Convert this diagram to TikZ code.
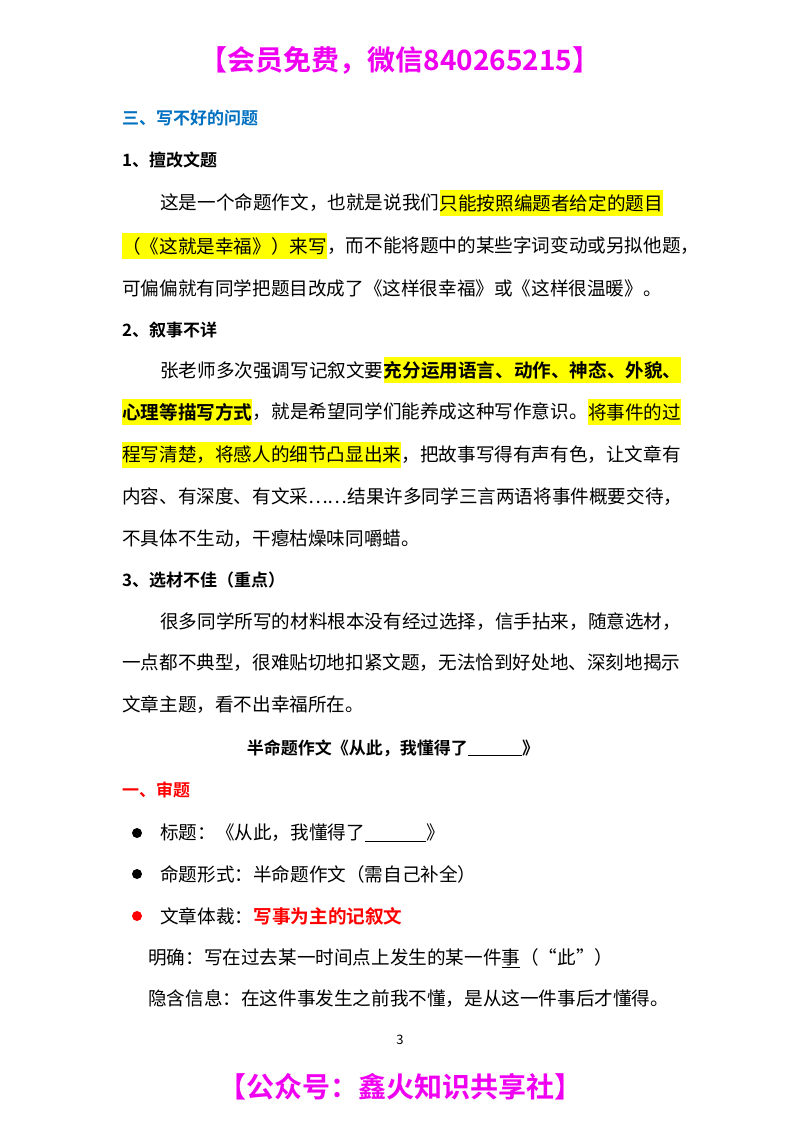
\documentclass[tikz,border=0pt]{standalone}
\usepackage{fontspec}
\setmainfont{Noto Sans CJK SC}
\newfontfamily\cjk{Noto Sans CJK SC}
\newfontfamily\cjkb{Noto Sans CJK SC Bold}
\definecolor{mag}{RGB}{240,0,240}
\definecolor{hdblue}{RGB}{0,112,192}
\definecolor{hl}{RGB}{255,255,0}
\begin{document}
\begin{tikzpicture}[x=1pt,y=-1pt,
  t/.style={anchor=west,inner sep=0pt,font=\fontsize{18.6}{20}\cjk,minimum height=26pt},
  tb/.style={t,font=\fontsize{18.6}{20}\cjkb},
  h/.style={fill=hl},
  head/.style={anchor=west,inner sep=0pt,font=\fontsize{17}{20}\cjkb},
  big/.style={inner sep=0pt,font=\fontsize{28}{30}\cjkb,text=mag},
  dot/.style={circle,fill,inner sep=0pt,minimum size=10pt}]
\useasboundingbox (0,0) rectangle (800,1132);
\fill[white] (0,0) rectangle (800,1132);
\node[big] (top) at (400,60) {【会员免费，微信840265215】};
\node[head,text=hdblue] (s3) at (122,118) {三、写不好的问题};
\node[head] (h1) at (122,160) {1、擅改文题};
\node[t] (a1) at (160,203) {这是一个命题作文，也就是说我们};
\node[t,h] (a2) at (a1.east) {只能按照编题者给定的题目};
\node[t,h] (b1) at (122,246) {（《这就是幸福》）来写};
\node[t] (b2) at (b1.east) {，而不能将题中的某些字词变动或另拟他题，};
\node[t] (c1) at (122,288) {可偏偏就有同学把题目改成了《这样很幸福》或《这样很温暖》。};
\node[head] (h2) at (122,330) {2、叙事不详};
\node[t] (d1) at (160,370) {张老师多次强调写记叙文要};
\node[tb,h] (d2) at (d1.east) {充分运用语言、动作、神态、外貌、};
\node[tb,h] (e1) at (122,412) {心理等描写方式};
\node[t] (e2) at (e1.east) {，就是希望同学们能养成这种写作意识。};
\node[t,h] (e3) at (e2.east) {将事件的过};
\node[t,h] (f1) at (122,455) {程写清楚，将感人的细节凸显出来};
\node[t] (f2) at (f1.east) {，把故事写得有声有色，让文章有};
\node[t] (g1) at (122,497) {内容、有深度、有文采……结果许多同学三言两语将事件概要交待，};
\node[t] (g2) at (122,539) {不具体不生动，干瘪枯燥味同嚼蜡。};
\node[head] (h3) at (122,580) {3、选材不佳（重点）};
\node[t] (i1) at (160,622) {很多同学所写的材料根本没有经过选择，信手拈来，随意选材，};
\node[t] (i2) at (122,663) {一点都不典型，很难贴切地扣紧文题，无法恰到好处地、深刻地揭示};
\node[t] (i3) at (122,705) {文章主题，看不出幸福所在。};
\node[inner sep=0pt,font=\fontsize{17}{20}\cjkb] (ti) at (393,748) {半命题作文《从此，我懂得了\underline{\hspace{3.2em}}》};
\node[head,text=red] (s1) at (122,790) {一、审题};
\node[dot] (p1) at (137,833) {};
\node[t] (q1) at (160,833) {标题：《从此，我懂得了\underline{\hspace{3.3em}}》};
\node[dot] (p2) at (137,874) {};
\node[t] (q2) at (160,874) {命题形式：半命题作文（需自己补全）};
\node[dot,red] (p3) at (137,916) {};
\node[t] (q3) at (160,916) {文章体裁：};
\node[tb,text=red] (q4) at (q3.east) {写事为主的记叙文};
\node[t] (r1) at (148,958) {明确：写在过去某一时间点上发生的某一件\underline{事}（“此”）};
\node[t] (r2) at (148,999) {隐含信息：在这件事发生之前我不懂，是从这一件事后才懂得。};
\node[inner sep=0pt,font=\fontsize{13}{15}\selectfont] (pg) at (400,1040) {3};
\node[big] (bot) at (400,1087) {【公众号：鑫火知识共享社】};
\end{tikzpicture}
\end{document}
